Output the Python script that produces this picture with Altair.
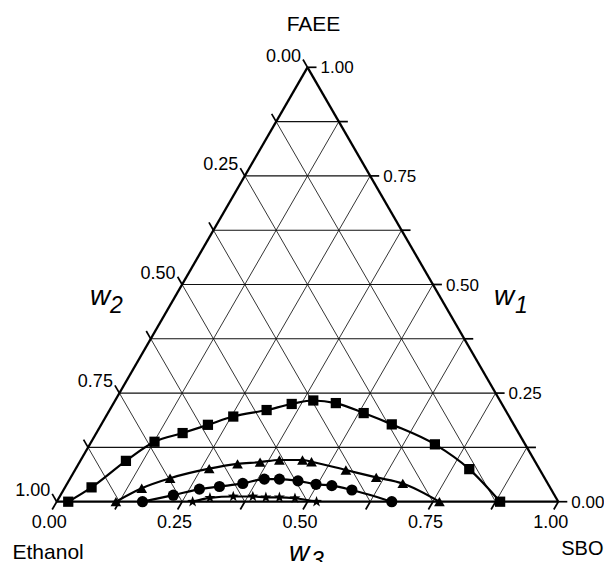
import altair as alt
import pandas as pd
import numpy as np

# ---------------- data (mass fractions) ----------------
# w1 = FAEE, w3 = SBO (w2 = Ethanol = 1 - w1 - w3)
sq_w1 = [0.000, 0.033, 0.094, 0.138, 0.158, 0.177, 0.196, 0.211, 0.225, 0.233, 0.227, 0.204, 0.178, 0.132, 0.075, 0.000]
sq_w3 = [0.023, 0.053, 0.091, 0.126, 0.172, 0.213, 0.254, 0.313, 0.356, 0.395, 0.443, 0.510, 0.579, 0.688, 0.785, 0.884]
tri_w1 = [0.000, 0.031, 0.054, 0.076, 0.087, 0.091, 0.096, 0.096, 0.092, 0.073, 0.056, 0.042, 0.000]
tri_w3 = [0.118, 0.154, 0.199, 0.266, 0.317, 0.360, 0.396, 0.442, 0.462, 0.540, 0.609, 0.669, 0.763]
cir_w1 = [0.000, 0.015, 0.029, 0.035, 0.042, 0.052, 0.052, 0.048, 0.040, 0.037, 0.027, 0.000]
cir_w3 = [0.171, 0.225, 0.270, 0.307, 0.350, 0.388, 0.418, 0.457, 0.497, 0.530, 0.575, 0.668]
star_w1 = [0.000, 0.009, 0.012, 0.012, 0.010, 0.010, 0.008, 0.000]
star_w3 = [0.271, 0.301, 0.346, 0.385, 0.412, 0.439, 0.471, 0.518]

series_names = ["s1", "s2", "s3", "s4"]
tick_values = [0.0, 0.25, 0.5, 0.75, 1.0]
grid_fracs = [k / 8 for k in range(1, 8)]
minor_ticks = [k / 8 for k in range(0, 9)]
vertex_labels = ["FAEE", "Ethanol", "SBO"]

# ---------------- layout ----------------
W, H = 596, 554
LEFT_PX, RIGHT_PX, BASE_PX = 56.7, 558.3, 501.7   # page pixels of the triangle base
UNIT = RIGHT_PX - LEFT_PX
XMIN = -(LEFT_PX - 8) / UNIT
XMAX = XMIN + W / UNIT
YMAX = (BASE_PX - 8) / UNIT
YMIN = YMAX - H / UNIT
S3 = np.sqrt(3) / 2
TL = 9 / UNIT  # tick length


def XY(w1, w3):
    return w3 + w1 / 2.0, w1 * S3


xs = alt.Scale(domain=[XMIN, XMAX], nice=False, zero=False)
ys = alt.Scale(domain=[YMIN, YMAX], nice=False, zero=False)

# data points
rows = []
for name, a1, a3 in zip(series_names, [sq_w1, tri_w1, cir_w1, star_w1], [sq_w3, tri_w3, cir_w3, star_w3]):
    for i, (v1, v3) in enumerate(zip(a1, a3)):
        X, Y = XY(v1, v3)
        rows.append({"series": name, "w1": v1, "w3": v3, "X": X, "Y": Y, "i": i})
pts = pd.DataFrame(rows)

# grid segments
seg = []
for f in grid_fracs:
    x1, y1 = XY(f, 0); x2, y2 = XY(f, 1 - f)
    seg.append({"x": x1, "y": y1, "x2": x2, "y2": y2, "kind": "h"})
    x1, y1 = XY(0, 1 - f); x2, y2 = XY(1 - f, 0)
    seg.append({"x": x1, "y": y1, "x2": x2, "y2": y2, "kind": "d"})
    x1, y1 = XY(0, f); x2, y2 = XY(1 - f, f)
    seg.append({"x": x1, "y": y1, "x2": x2, "y2": y2, "kind": "d"})
grid = pd.DataFrame(seg)

# border
bx = [XY(0, 0), XY(0, 1), XY(1, 0)]
border = pd.DataFrame([
    {"x": bx[0][0], "y": bx[0][1], "x2": bx[1][0], "y2": bx[1][1]},
    {"x": bx[1][0], "y": bx[1][1], "x2": bx[2][0], "y2": bx[2][1]},
    {"x": bx[2][0], "y": bx[2][1], "x2": bx[0][0], "y2": bx[0][1]},
])

# ticks
tk = []
for f in minor_ticks:
    x, y = XY(f, 1 - f)
    tk.append({"x": x, "y": y, "x2": x + TL, "y2": y})
    x, y = XY(1 - f, 0)
    tk.append({"x": x, "y": y, "x2": x - 0.5 * TL, "y2": y + S3 * TL})
    x, y = XY(0, f)
    tk.append({"x": x, "y": y, "x2": x - 0.5 * TL, "y2": y - S3 * TL})
ticks = pd.DataFrame(tk)

lab_r, lab_l, lab_b = [], [], []
for v in tick_values:
    t = f"{v:.2f}"
    x, y = XY(v, 1 - v)
    lab_r.append({"x": x + TL, "y": y, "t": t})
    x, y = XY(1 - v, 0)
    lab_l.append({"x": x - 0.5 * TL, "y": y + S3 * TL, "t": t})
    x, y = XY(0, v)
    lab_b.append({"x": x - 0.5 * TL, "y": y - S3 * TL, "t": t})
lab_r, lab_l, lab_b = pd.DataFrame(lab_r), pd.DataFrame(lab_l), pd.DataFrame(lab_b)

FONT = "Liberation Sans"
TFS = 18

enc = dict(x=alt.X("x:Q", scale=xs, axis=None), y=alt.Y("y:Q", scale=ys, axis=None),
           x2="x2:Q", y2="y2:Q")

grid_h = alt.Chart(grid[grid.kind == "h"]).mark_rule(color="#111", strokeWidth=1.1).encode(**enc)
grid_d = alt.Chart(grid[grid.kind == "d"]).mark_rule(color="#111", strokeWidth=0.85).encode(**enc)
border_l = alt.Chart(border).mark_rule(color="black", strokeWidth=2.3).encode(**enc)
ticks_l = alt.Chart(ticks).mark_rule(color="black", strokeWidth=1.7).encode(**enc)

tx = dict(x=alt.X("x:Q", scale=xs, axis=None), y=alt.Y("y:Q", scale=ys, axis=None), text="t:N")
labR = alt.Chart(lab_r).mark_text(font=FONT, fontSize=17, align="left", baseline="middle", dx=4, dy=1).encode(**tx)
labL = alt.Chart(lab_l).mark_text(font=FONT, fontSize=TFS, align="right", baseline="alphabetic", dx=-2, dy=2).encode(**tx)
labB = alt.Chart(lab_b).mark_text(font=FONT, fontSize=TFS, align="center", baseline="alphabetic", dx=-3, dy=19).encode(**tx)

STAR = "M0,-1L0.235,-0.324L0.951,-0.309L0.38,0.124L0.588,0.809L0,0.4L-0.588,0.809L-0.38,0.124L-0.951,-0.309L-0.235,-0.324Z"

lines = alt.Chart(pts).mark_line(color="black", strokeWidth=2.2, interpolate="monotone").encode(
    x=alt.X("X:Q", scale=xs, axis=None), y=alt.Y("Y:Q", scale=ys, axis=None),
    detail="series:N", order="X:Q")
points = alt.Chart(pts).mark_point(filled=True, color="black", opacity=1).encode(
    x=alt.X("X:Q", scale=xs, axis=None), y=alt.Y("Y:Q", scale=ys, axis=None),
    shape=alt.Shape("series:N", scale=alt.Scale(domain=series_names,
                    range=["square", "triangle-up", "circle", STAR]), legend=None),
    size=alt.Size("series:N", scale=alt.Scale(domain=series_names, range=[105, 135, 110, 150]), legend=None))


def ptext(t, px, py, size, align="left", italic=False):
    return alt.Chart(pd.DataFrame({"t": [t]})).mark_text(
        font=FONT, fontSize=size, align=align, baseline="alphabetic",
        fontStyle="italic" if italic else "normal", color="black").encode(
        x=alt.value(px - 8), y=alt.value(py - 8), text="t:N")


annots = [
    ptext(vertex_labels[0], 313.5, 30.5, 21, align="center"),
    ptext(vertex_labels[1], 12.5, 559, 21),
    ptext(vertex_labels[2], 603.5, 555, 20, align="right"),
    ptext("w", 90, 305, 28, italic=True),
    ptext("2", 110, 313, 23, italic=True),
    ptext("w", 494, 305, 28, italic=True),
    ptext("1", 515, 313, 23, italic=True),
    ptext("w", 289, 561, 28, italic=True),
    ptext("3", 311, 568, 23, italic=True),
]

chart = alt.layer(grid_h, grid_d, border_l, ticks_l, labR, labL, labB, lines, points, *annots).properties(
    width=W, height=H, autosize=alt.AutoSizeParams(type="none"), padding=0
).configure_view(stroke=None)

chart.save("out.html", embed_options={"renderer": "svg", "actions": False})
